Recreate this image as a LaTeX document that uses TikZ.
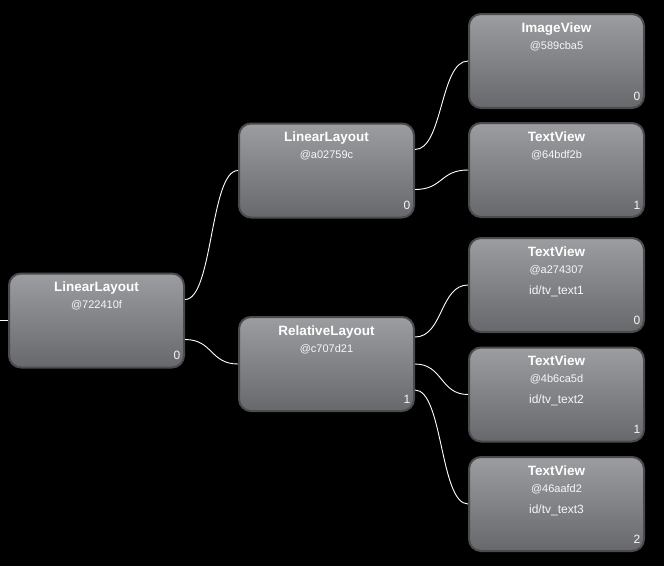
\documentclass[tikz,border=0pt]{standalone}
\usepackage{fontspec}
\setmainfont{Liberation Sans}
\begin{document}
\begin{tikzpicture}[x=1pt,y=-1pt,
  vbox/.style={draw=boxedge, line width=2pt, rounded corners=12pt,
    minimum width=175pt, minimum height=94pt, inner sep=0pt,
    top color=boxtop, bottom color=boxbot},
  ttl/.style={anchor=base, text=white, font=\fontsize{13.5}{15}\selectfont\bfseries, inner sep=0pt},
  sub/.style={anchor=base, text=white!94!gray, font=\fontsize{11}{13}\selectfont, inner sep=0pt},
  idl/.style={anchor=base, text=white!94!gray, font=\fontsize{12}{14}\selectfont, inner sep=0pt},
  idx/.style={anchor=base, text=white!94!gray, font=\fontsize{12}{14}\selectfont, inner sep=0pt},
  wire/.style={draw=white, line width=0.9pt}]
\definecolor{boxedge}{HTML}{4A4B4D}
\definecolor{boxtop}{HTML}{9C9DA0}
\definecolor{boxbot}{HTML}{66686C}
\fill[black] (0,0) rectangle (664,566);
\useasboundingbox (0,0) rectangle (664,566);
\newcommand\vnode[7]{%
  \node[vbox] (#1) at (#2,#3) {};
  \node[ttl] (#1-t) at ([yshift=-19pt]#1.north) {#4};
  \node[sub] (#1-s) at ([yshift=-36pt]#1.north) {#5};
  \node[idl] (#1-i) at ([yshift=-57pt]#1.north) {#6};
  \node[idx] (#1-n) at ([xshift=-8pt,yshift=9pt]#1.south east) {#7};
}
\vnode{root}{96.5}{320.5}{LinearLayout}{@722410f}{}{0}
\vnode{ll}{326.5}{170.5}{LinearLayout}{@a02759c}{}{0}
\vnode{rl}{326.5}{364}{RelativeLayout}{@c707d21}{}{1}
\vnode{iv}{556.5}{61}{ImageView}{@589cba5}{}{0}
\vnode{tv}{556.5}{170}{TextView}{@64bdf2b}{}{1}
\vnode{ta}{556.5}{285}{TextView}{@a274307}{id/tv\_text1}{0}
\vnode{tb}{556.5}{394.5}{TextView}{@4b6ca5d}{id/tv\_text2}{1}
\vnode{tc}{556.5}{504}{TextView}{@46aafd2}{id/tv\_text3}{2}
\coordinate (in0) at (0,320.5);
\draw[wire] (in0) -- (root.west);
\draw[wire] ([yshift=-27pt]root.north east) .. controls +(28,0) and +(-28,0) .. (ll.west);
\draw[wire] ([yshift=-67pt]root.north east) .. controls +(28,0) and +(-28,0) .. (rl.west);
\draw[wire] ([yshift=-27pt]ll.north east) .. controls +(28,0) and +(-28,0) .. (iv.west);
\draw[wire] ([yshift=-67pt]ll.north east) .. controls +(28,0) and +(-28,0) .. (tv.west);
\draw[wire] ([yshift=-21pt]rl.north east) .. controls +(28,0) and +(-28,0) .. (ta.west);
\draw[wire] ([yshift=-48pt]rl.north east) .. controls +(28,0) and +(-28,0) .. (tb.west);
\draw[wire] ([yshift=-74pt]rl.north east) .. controls +(28,0) and +(-28,0) .. (tc.west);
\end{tikzpicture}
\end{document}
